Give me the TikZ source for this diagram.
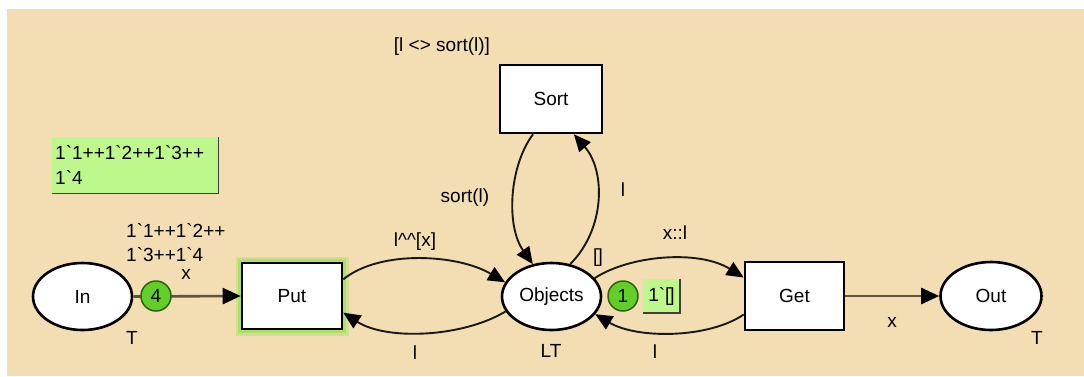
\documentclass[tikz,border=0pt]{standalone}
\usepackage{fontspec}
\setmainfont{Liberation Sans}
\usetikzlibrary{arrows.meta,shapes.geometric}
\definecolor{bg}{RGB}{243,221,179}
\definecolor{tokgreen}{RGB}{98,206,40}
\definecolor{tokedge}{RGB}{45,95,20}
\definecolor{markfill}{RGB}{190,248,140}
\definecolor{arcbrown}{RGB}{95,82,66}
\definecolor{glowgreen}{RGB}{150,225,80}
\begin{document}
\begin{tikzpicture}[x=1pt,y=-1pt, font=\fontsize{19}{25}\selectfont,
  place/.style={ellipse, draw=black, line width=2.6pt, fill=white, inner sep=0pt},
  trans/.style={rectangle, draw=black, line width=2.6pt, fill=white, inner sep=0pt},
  arc/.style={draw=black!90, line width=1.9pt, -{Triangle[length=17pt,width=15pt,color=black]}},
  straightarc/.style={draw=arcbrown, line width=2.6pt, -{Triangle[length=18pt,width=16pt,color=black]}},
  token/.style={circle, fill=tokgreen, draw=tokedge, line width=1.5pt, minimum size=30pt, inner sep=0pt},
  markbox/.style={fill=markfill, inner sep=0pt},
  shadowline/.style={draw=black!75, line width=1.5pt},
  lbl/.style={inner sep=0pt}
]
\useasboundingbox (0,0) rectangle (1084,376);
\fill[white] (0,0) rectangle (1084,376);
\fill[bg] (7,9) rectangle (1084,376);

% places and transitions
\node[place, minimum width=99pt, minimum height=67pt] (in) at (82.5,296.5) {In};
\node[place, minimum width=99pt, minimum height=67pt] (obj) at (551.5,296.5) {Objects};
\node[place, minimum width=101pt, minimum height=68pt] (out) at (991,296) {Out};
\node[trans, minimum width=100pt, minimum height=66pt,
      preaction={draw=glowgreen, draw opacity=0.35, line width=13pt},
      preaction={draw=glowgreen, draw opacity=0.6, line width=8pt}] (put) at (292,296) {Put};
\node[trans, minimum width=102pt, minimum height=68pt] (sort) at (551,99) {Sort};
\node[trans, minimum width=99pt, minimum height=68pt] (get) at (794.5,296) {Get};

% arcs
\draw[straightarc] (in.east) -- (put.west);
\draw[straightarc] (get.east) -- (out.west);
\draw[arc] (put.18) .. controls +(37,-30) and +(-47,-28) .. (obj.163);
\draw[arc] (obj.198) .. controls +(-43,26) and +(43,28) .. (put.342);
\draw[arc] (sort.243) .. controls +(-24,32) and +(-27,-38) .. (obj.120);
\draw[arc] (obj.60) .. controls +(35,-35) and +(32,37) .. (sort.303);
\draw[arc] (obj.23) .. controls +(35,-23) and +(-45,-28) .. (get.160);
\draw[arc] (get.200) .. controls +(-35,24) and +(42,25) .. (obj.338);

% tokens
\node[token] (tok4) at (156,296) {4};
\node[token] (tok1) at (623,296) {1};

% current markings
\node[markbox, anchor=north west, minimum width=166pt, minimum height=56pt,
      text width=160pt, align=left, inner xsep=3pt] (mk1) at (52,137)
      {1\textasciigrave 1++1\textasciigrave 2++1\textasciigrave 3++\\1\textasciigrave 4};
\draw[shadowline] (mk1.north east) -- (mk1.south east) -- (mk1.south west);
\node[markbox, minimum width=37pt, minimum height=34pt] (mk2) at (661.5,296) {1\textasciigrave[\kern-1pt]};
\draw[shadowline] (mk2.north east) -- (mk2.south east) -- (mk2.south west);

% labels
\node[lbl] (guard) at (442,47) {[l <> sort(l)]};
\node[lbl, anchor=west] (im1) at (126,230) {1\textasciigrave 1++1\textasciigrave 2++};
\node[lbl, anchor=west] (im2) at (126,255) {1\textasciigrave 3++1\textasciigrave 4};
\node[lbl] (lx1) at (186,274) {x};
\node[lbl] (tin) at (132,338) {T};
\node[lbl] (tout) at (1037,338) {T};
\node[lbl] (tobj) at (551,351) {LT};
\node[lbl] (lput) at (415,242) {l\textasciicircum\textasciicircum[x]};
\node[lbl] (lputb) at (415,353) {l};
\node[lbl] (lsort) at (465,198) {sort(l)};
\node[lbl] (lsortb) at (623,190) {l};
\node[lbl] (imobj) at (598,258) {[\kern-1pt]};
\node[lbl] (lget) at (675,233) {x::l};
\node[lbl] (lgetb) at (655,352) {l};
\node[lbl] (lout) at (892,322) {x};
\end{tikzpicture}
\end{document}
